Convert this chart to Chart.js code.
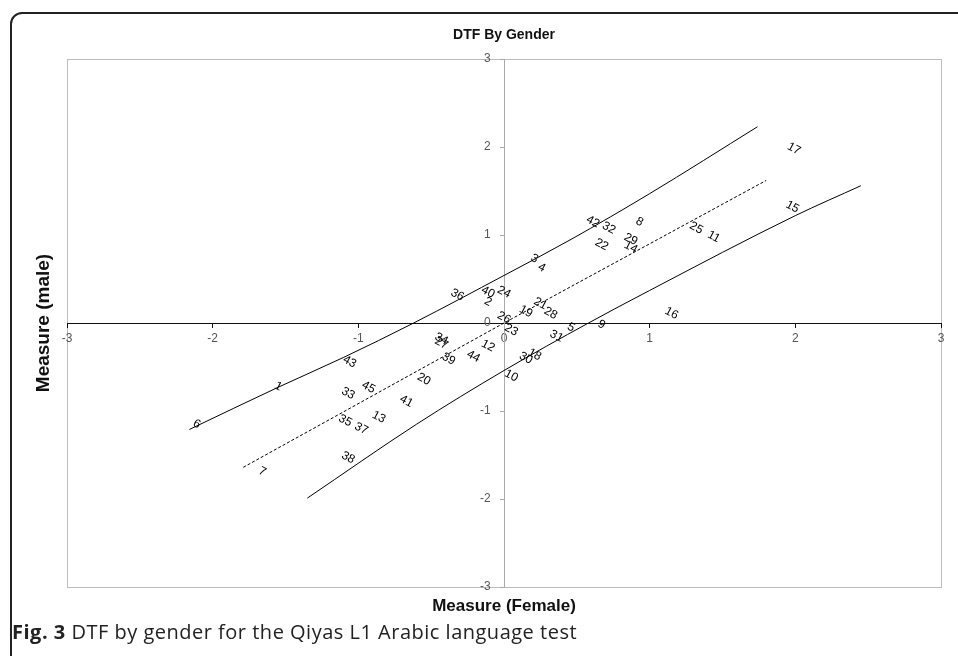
<!DOCTYPE html>
<html>
<head>
<meta charset="utf-8">
<title>DTF By Gender</title>
<script src="https://cdn.jsdelivr.net/npm/chart.js@4.4.1/dist/chart.umd.min.js"></script>
<style>
  html, body { margin: 0; padding: 0; background: #fff; }
  body { width: 958px; height: 656px; overflow: hidden; position: relative; }
  .frame {
    position: absolute; left: 10px; top: 12px; width: 1000px; height: 700px;
    border: 2px solid #222; border-radius: 12px; box-sizing: border-box;
  }
  #dtfChart { position: absolute; left: 0; top: 0; }
  .caption {
    position: absolute; left: 12px; top: 618px; white-space: nowrap;
    font-family: "Open Sans", sans-serif; font-size: 20px; letter-spacing: 0.5px; color: #222;
  }
</style>
</head>
<body>
<div class="frame"></div>
<canvas id="dtfChart" width="958" height="656"></canvas>
<div class="caption"><b>Fig. 3</b> DTF by gender for the Qiyas L1 Arabic language test</div>

<script>
// item numbers and their measures
const itemIds = [
  1, 2, 3, 4, 5, 6, 7, 8, 9, 10,
  11, 12, 13, 14, 15, 16, 17, 18, 19, 20,
  21, 22, 23, 24, 25, 26, 27, 28, 29, 30,
  31, 32, 33, 34, 35, 36, 37, 38, 39, 40,
  41, 42, 43, 44, 45
];
const femaleMeasures = [
  -1.55, -0.11, 0.21, 0.26, 0.46, -2.11, -1.66, 0.93, 0.67, 0.05,
  1.44, -0.11, -0.86, 0.87, 1.98, 1.15, 1.99, 0.21, 0.15, -0.55,
  0.25, 0.67, 0.05, 0.0, 1.32, 0.0, -0.43, 0.32, 0.87, 0.15,
  0.36, 0.72, -1.07, -0.43, -1.09, -0.32, -0.98, -1.07, -0.38, -0.11,
  -0.67, 0.61, -1.06, -0.21, -0.93
];
const maleMeasures = [
  -0.72, 0.24, 0.73, 0.63, -0.05, -1.15, -1.69, 1.15, -0.02, -0.6,
  0.98, -0.26, -1.07, 0.86, 1.32, 0.11, 1.98, -0.36, 0.13, -0.64,
  0.22, 0.89, -0.08, 0.35, 1.08, 0.06, -0.23, 0.11, 0.95, -0.4,
  -0.15, 1.08, -0.8, -0.18, -1.11, 0.32, -1.2, -1.53, -0.41, 0.35,
  -0.89, 1.15, -0.44, -0.38, -0.73
];

// control lines
const upperX = [-2.16, -1.55, -1.1, -0.62, 0, 0.46, 1.0, 1.74];
const upperY = [-1.21, -0.73, -0.39, 0, 0.54, 0.95, 1.47, 2.23];
const lowerX = [-1.35, -0.6, 0, 0.58, 1.0, 2.0, 2.45];
const lowerY = [-1.99, -1.15, -0.54, 0, 0.37, 1.22, 1.56];
const identityX = [-1.79, 0, 1.8];
const identityY = [-1.64, 0, 1.62];

const tickValues = [-3, -2, -1, 0, 1, 2, 3];

function toPoints(xs, ys) {
  return xs.map((x, i) => ({ x: x, y: ys[i] }));
}

// draws the item numbers, tilted like the original
const itemLabels = {
  id: 'itemLabels',
  afterDatasetsDraw(chart) {
    const meta = chart.getDatasetMeta(3);
    const ctx = chart.ctx;
    ctx.save();
    ctx.font = '12px Arial, "Liberation Sans", sans-serif';
    ctx.fillStyle = '#000';
    ctx.textAlign = 'center';
    ctx.textBaseline = 'middle';
    meta.data.forEach((pt, i) => {
      ctx.save();
      ctx.translate(pt.x, pt.y);
      ctx.rotate(28 * Math.PI / 180);
      ctx.fillText(String(itemIds[i]), 0, 0);
      ctx.restore();
    });
    ctx.restore();
  }
};

// plot frame, titles
const frameAndTitles = {
  id: 'frameAndTitles',
  beforeDraw(chart) {
    const { ctx, chartArea: a } = chart;
    ctx.save();
    ctx.strokeStyle = '#bdbdbd';
    ctx.lineWidth = 1;
    ctx.strokeRect(a.left + 0.5, a.top + 0.5, a.right - a.left, a.bottom - a.top);
    ctx.restore();
  },
  afterDraw(chart) {
    const { ctx, chartArea: a } = chart;
    const cx = chart.scales.x.getPixelForValue(0);
    const cy = chart.scales.y.getPixelForValue(0);
    ctx.save();
    ctx.fillStyle = '#111';
    ctx.textAlign = 'center';
    ctx.textBaseline = 'middle';
    ctx.font = 'bold 14px Arial, "Liberation Sans", sans-serif';
    ctx.fillText('DTF By Gender', cx, 35);
    ctx.font = 'bold 17px Arial, "Liberation Sans", sans-serif';
    ctx.fillText('Measure (Female)', cx, a.bottom + 19);
    ctx.translate(44, cy);
    ctx.rotate(-Math.PI / 2);
    ctx.font = 'bold 19px Arial, "Liberation Sans", sans-serif';
    ctx.fillText('Measure (male)', 0, 0);
    ctx.restore();
  }
};

const lineStyle = {
  borderColor: '#000',
  borderWidth: 1,
  pointRadius: 0,
  showLine: true,
  fill: false
};

new Chart(document.getElementById('dtfChart'), {
  type: 'scatter',
  data: {
    datasets: [
      Object.assign({ label: 'upper', data: toPoints(upperX, upperY), cubicInterpolationMode: 'monotone' }, lineStyle),
      Object.assign({ label: 'lower', data: toPoints(lowerX, lowerY), cubicInterpolationMode: 'monotone' }, lineStyle),
      Object.assign({ label: 'identity', data: toPoints(identityX, identityY), borderDash: [3, 2] }, lineStyle),
      {
        label: 'items',
        data: toPoints(femaleMeasures, maleMeasures),
        pointRadius: 0,
        pointHoverRadius: 0
      }
    ]
  },
  options: {
    responsive: false,
    animation: false,
    devicePixelRatio: 1,
    layout: { padding: { left: 67, right: 17, top: 59, bottom: 69 } },
    plugins: {
      legend: { display: false },
      title: { display: false },
      tooltip: { enabled: false }
    },
    scales: {
      x: {
        type: 'linear',
        min: -3,
        max: 3,
        position: { y: 0 },
        afterBuildTicks: (scale) => { scale.ticks = tickValues.map(v => ({ value: v })); },
        ticks: {
          color: '#555',
          font: { size: 12, family: 'Arial, "Liberation Sans", sans-serif' },
          padding: 4
        },
        grid: { drawOnChartArea: false, color: '#111', tickLength: 4 },
        border: { color: '#111', width: 1 }
      },
      y: {
        type: 'linear',
        min: -3,
        max: 3,
        position: { x: 0 },
        afterBuildTicks: (scale) => { scale.ticks = tickValues.map(v => ({ value: v })); },
        ticks: {
          color: '#555',
          font: { size: 12, family: 'Arial, "Liberation Sans", sans-serif' },
          // labels sit left of the axis line
          callback: (value) => value + '    '
        },
        grid: { drawOnChartArea: false, color: '#aaa', tickLength: 4 },
        border: { color: '#aaa', width: 1 }
      }
    }
  },
  plugins: [itemLabels, frameAndTitles]
});
</script>
</body>
</html>
